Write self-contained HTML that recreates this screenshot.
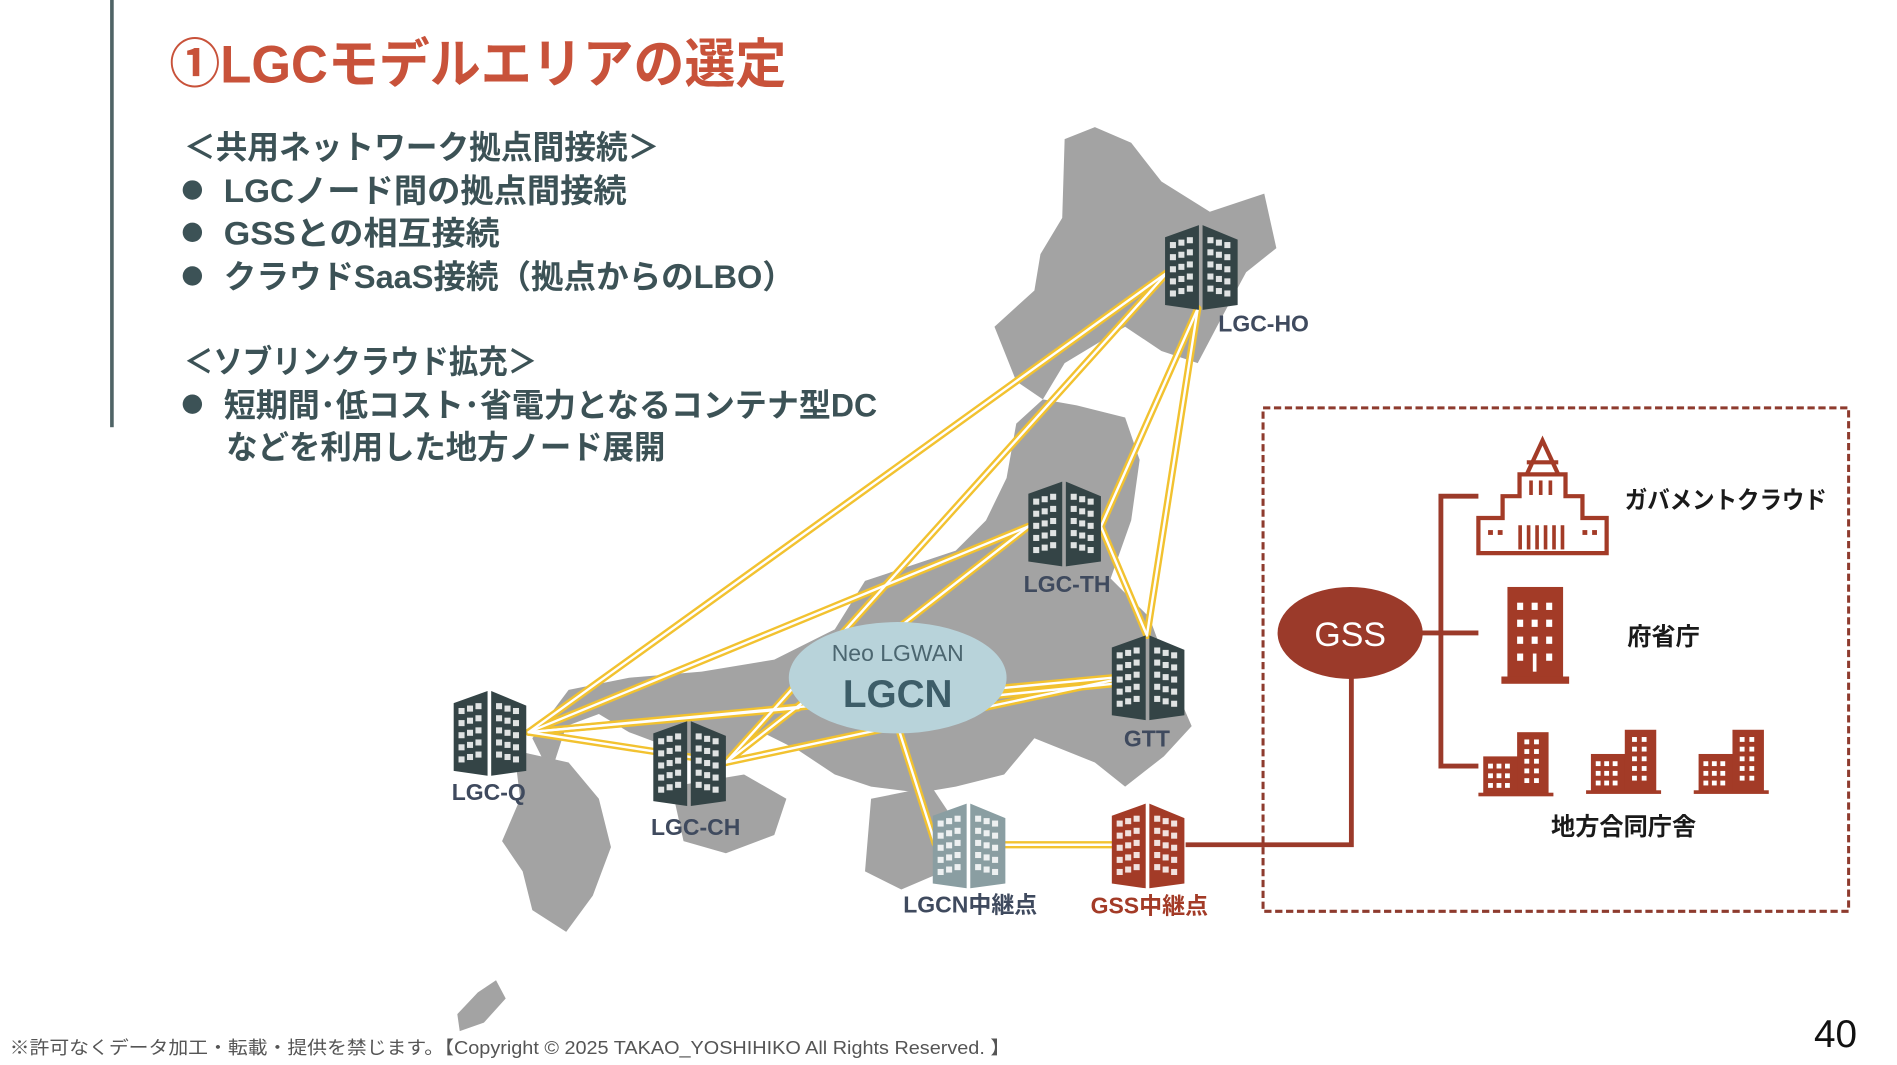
<!DOCTYPE html>
<html><head><meta charset="utf-8"><style>
html,body{margin:0;padding:0;background:#fff;}
svg{display:block;}
text{font-family:"Liberation Sans","Noto Sans CJK JP",sans-serif;}
</style></head><body>
<svg width="1897" height="1065" viewBox="0 0 1568 880" preserveAspectRatio="none" xmlns="http://www.w3.org/2000/svg">
<defs>
<g id="win">
 <rect x="4" y="14" width="5" height="5"/><rect x="11" y="12" width="5" height="5"/><rect x="18" y="10" width="5" height="5"/>
 <rect x="4" y="24" width="5" height="5"/><rect x="11" y="22" width="5" height="5"/><rect x="18" y="20" width="5" height="5"/>
 <rect x="4" y="34" width="5" height="5"/><rect x="11" y="32" width="5" height="5"/><rect x="18" y="30" width="5" height="5"/>
 <rect x="4" y="44" width="5" height="5"/><rect x="11" y="42" width="5" height="5"/><rect x="18" y="40" width="5" height="5"/>
 <rect x="4" y="54" width="5" height="5"/><rect x="11" y="52" width="5" height="5"/><rect x="18" y="50" width="5" height="5"/>
 <rect x="35" y="10" width="5" height="5"/><rect x="42" y="12" width="5" height="5"/><rect x="49" y="14" width="5" height="5"/>
 <rect x="35" y="20" width="5" height="5"/><rect x="42" y="22" width="5" height="5"/><rect x="49" y="24" width="5" height="5"/>
 <rect x="35" y="30" width="5" height="5"/><rect x="42" y="32" width="5" height="5"/><rect x="49" y="34" width="5" height="5"/>
 <rect x="35" y="40" width="5" height="5"/><rect x="42" y="42" width="5" height="5"/><rect x="49" y="44" width="5" height="5"/>
 <rect x="35" y="50" width="5" height="5"/><rect x="42" y="52" width="5" height="5"/><rect x="49" y="54" width="5" height="5"/>
</g>
<g id="bld">
 <polygon points="0,10 28,0 28,70 0,66"/>
 <polygon points="31,0 60,12 60,66 31,70"/>
 <use href="#win" fill="#fff" opacity="0.85"/>
</g>
<g id="sb">
 <rect x="0" y="20" width="32" height="32"/><rect x="28" y="0" width="26" height="52"/>
 <rect x="-4" y="50" width="62" height="3"/>
 <g fill="#fff"><rect x="4" y="26" width="4" height="4"/><rect x="11" y="26" width="4" height="4"/><rect x="18" y="26" width="4" height="4"/>
 <rect x="4" y="34" width="4" height="4"/><rect x="11" y="34" width="4" height="4"/><rect x="18" y="34" width="4" height="4"/>
 <rect x="4" y="42" width="4" height="4"/><rect x="11" y="42" width="4" height="4"/><rect x="18" y="42" width="4" height="4"/>
 <rect x="34" y="6" width="4" height="4"/><rect x="42" y="6" width="4" height="4"/><rect x="34" y="14" width="4" height="4"/><rect x="42" y="14" width="4" height="4"/>
 <rect x="34" y="22" width="4" height="4"/><rect x="42" y="22" width="4" height="4"/><rect x="34" y="30" width="4" height="4"/><rect x="42" y="30" width="4" height="4"/>
 <rect x="34" y="38" width="4" height="4"/><rect x="42" y="38" width="4" height="4"/></g>
</g>
</defs>

<rect x="91" y="0" width="3" height="353" fill="#4f6466"/>

<text x="140" y="68" font-size="44" font-weight="bold" fill="#c8523a" textLength="510" lengthAdjust="spacingAndGlyphs">①LGCモデルエリアの選定</text>

<g font-size="27" font-weight="bold" fill="#3c5256">
<text x="152" y="131" textLength="393" lengthAdjust="spacingAndGlyphs">＜共用ネットワーク拠点間接続＞</text>
<circle cx="159" cy="157" r="8"/><text x="185" y="167" textLength="333" lengthAdjust="spacingAndGlyphs">LGCノード間の拠点間接続</text>
<circle cx="159" cy="192" r="8"/><text x="185" y="202" textLength="228" lengthAdjust="spacingAndGlyphs">GSSとの相互接続</text>
<circle cx="159" cy="228" r="8"/><text x="185" y="238" textLength="472" lengthAdjust="spacingAndGlyphs">クラウドSaaS接続（拠点からのLBO）</text>
<text x="152" y="308" textLength="292" lengthAdjust="spacingAndGlyphs">＜ソブリンクラウド拡充＞</text>
<circle cx="159" cy="334" r="8"/><text x="185" y="344" textLength="540" lengthAdjust="spacingAndGlyphs">短期間･低コスト･省電力となるコンテナ型DC</text>
<text x="187" y="379" textLength="363" lengthAdjust="spacingAndGlyphs">などを利用した地方ノード展開</text>
</g>

<g fill="#a3a3a3">
<polygon points="880,115 905,105 935,118 960,150 1000,175 1045,160 1055,205 1030,225 1010,262 990,300 960,290 930,270 905,285 880,300 862,330 840,315 822,270 855,240 860,210 878,180"/>
<polygon points="862,330 890,335 930,345 942,380 935,430 918,478 950,510 972,570 985,600 962,625 930,650 905,630 880,620 855,610 830,640 790,650 760,655 720,650 690,640 660,620 630,605 600,630 560,620 520,605 495,590 468,600 455,640 440,610 470,570 520,560 580,555 640,545 690,520 715,480 745,470 790,455 815,430 832,395 840,350"/>
<polygon points="425,620 470,630 495,660 505,700 490,740 468,770 440,752 432,720 415,695 430,660"/>
<polygon points="555,650 615,640 650,660 640,690 600,705 565,695"/>
<polygon points="720,660 770,650 790,680 780,720 745,735 715,720"/>
<polygon points="395,820 410,810 418,825 400,845 380,852 378,838"/>
</g>

<g fill="none" stroke-linecap="round">
<g stroke="#f2c230" stroke-width="6">
<path d="M965,225 L437,605"/><path d="M965,225 L600,630"/>
<path d="M990,255 L910,435"/><path d="M990,255 L948,525"/>
<path d="M850,435 L437,605"/><path d="M850,435 L600,630"/><path d="M910,435 L948,525"/>
<path d="M437,605 L660,585"/><path d="M437,605 L600,630"/><path d="M437,605 L920,560"/>
<path d="M600,630 L920,562"/><path d="M820,575 L920,565"/>
<path d="M742,600 L773,697"/><path d="M830,698 L920,698"/>
</g>
<g stroke="#fff" stroke-width="2">
<path d="M965,225 L437,605"/><path d="M965,225 L600,630"/>
<path d="M990,255 L910,435"/><path d="M990,255 L948,525"/>
<path d="M850,435 L437,605"/><path d="M850,435 L600,630"/><path d="M910,435 L948,525"/>
<path d="M437,605 L660,585"/><path d="M437,605 L600,630"/><path d="M437,605 L920,560"/>
<path d="M600,630 L920,562"/><path d="M820,575 L920,565"/>
<path d="M742,600 L773,697"/><path d="M830,698 L920,698"/>
</g>
</g>

<ellipse cx="742" cy="560" rx="90" ry="46" fill="#b8d3da"/>
<text x="742" y="546" font-size="19" fill="#4b6670" text-anchor="middle">Neo LGWAN</text>
<text x="742" y="584" font-size="32" font-weight="bold" fill="#3d5d68" text-anchor="middle">LGCN</text>

<use href="#bld" x="963" y="186" fill="#344446"/>
<use href="#bld" x="850" y="398" fill="#344446"/>
<use href="#bld" x="919" y="525" fill="#344446"/>
<use href="#bld" x="375" y="571" fill="#344446"/>
<use href="#bld" x="540" y="596" fill="#344446"/>
<use href="#bld" x="771" y="664" fill="#8a9ea2"/>
<use href="#bld" x="919" y="664" fill="#a33b27"/>

<g font-size="19" font-weight="bold" fill="#3f4a5e">
<text x="1007" y="274">LGC-HO</text>
<text x="882" y="489" text-anchor="middle">LGC-TH</text>
<text x="948" y="617" text-anchor="middle">GTT</text>
<text x="404" y="661" text-anchor="middle">LGC-Q</text>
<text x="575" y="690" text-anchor="middle">LGC-CH</text>
<text x="802" y="754" text-anchor="middle">LGCN中継点</text>
<text x="950" y="755" text-anchor="middle" fill="#a33b27">GSS中継点</text>
</g>

<rect x="1044" y="337" width="484" height="416" fill="none" stroke="#8e3b2e" stroke-width="2.5" stroke-dasharray="6,3"/>

<g stroke="#9b3a2a" stroke-width="4" fill="none">
<path d="M980,698 L1117,698 L1117,555"/>
<path d="M1175,523 L1222,523"/>
<path d="M1222,410 L1191,410 L1191,633 L1222,633"/>
</g>
<ellipse cx="1116" cy="523" rx="60" ry="38" fill="#9b3a2a"/>
<text x="1116" y="534" font-size="28" fill="#fff" text-anchor="middle">GSS</text>

<g fill="none" stroke="#a33b27" stroke-width="3.5">
<path d="M1222,457 L1328,457 L1328,428 L1308,428 L1308,410 L1294,410 L1294,392 L1256,392 L1256,410 L1242,410 L1242,428 L1222,428 Z"/>
<path d="M1262,392 L1275,364 L1288,392"/>
<path d="M1262,382 L1288,382"/>
</g>
<g fill="#a33b27">
<rect x="1255" y="434" width="3" height="20"/><rect x="1262" y="434" width="3" height="20"/><rect x="1269" y="434" width="3" height="20"/><rect x="1276" y="434" width="3" height="20"/><rect x="1283" y="434" width="3" height="20"/><rect x="1290" y="434" width="3" height="20"/>
<rect x="1264" y="397" width="3" height="12"/><rect x="1272" y="397" width="3" height="12"/><rect x="1280" y="397" width="3" height="12"/>
<rect x="1230" y="438" width="4" height="4"/><rect x="1238" y="438" width="4" height="4"/><rect x="1308" y="438" width="4" height="4"/><rect x="1316" y="438" width="4" height="4"/>
</g>

<g fill="#a33b27">
<rect x="1246" y="485" width="46" height="76"/>
<rect x="1241" y="559" width="56" height="6"/>
</g>
<g fill="#fff">
<rect x="1254" y="498" width="5" height="6"/><rect x="1266" y="498" width="5" height="6"/><rect x="1278" y="498" width="5" height="6"/>
<rect x="1254" y="512" width="5" height="6"/><rect x="1266" y="512" width="5" height="6"/><rect x="1278" y="512" width="5" height="6"/>
<rect x="1254" y="526" width="5" height="6"/><rect x="1266" y="526" width="5" height="6"/><rect x="1278" y="526" width="5" height="6"/>
<rect x="1254" y="540" width="5" height="6"/><rect x="1278" y="540" width="5" height="6"/><rect x="1267" y="540" width="3" height="15"/>
</g>

<use href="#sb" x="1226" y="605" fill="#a33b27"/>
<use href="#sb" x="1315" y="603" fill="#a33b27"/>
<use href="#sb" x="1404" y="603" fill="#a33b27"/>

<g font-size="20" font-weight="bold" fill="#1a1a1a">
<text x="1343" y="420" textLength="167" lengthAdjust="spacingAndGlyphs">ガバメントクラウド</text>
<text x="1345" y="533">府省庁</text>
<text x="1342" y="690" text-anchor="middle">地方合同庁舎</text>
</g>

<text x="8" y="871" font-size="15" fill="#555" textLength="827" lengthAdjust="spacingAndGlyphs">※許可なくデータ加工・転載・提供を禁じます。【Copyright © 2025 TAKAO_YOSHIHIKO All Rights Reserved. 】</text>
<text x="1535" y="865" font-size="32" fill="#111" text-anchor="end">40</text>
</svg>
</body></html>
